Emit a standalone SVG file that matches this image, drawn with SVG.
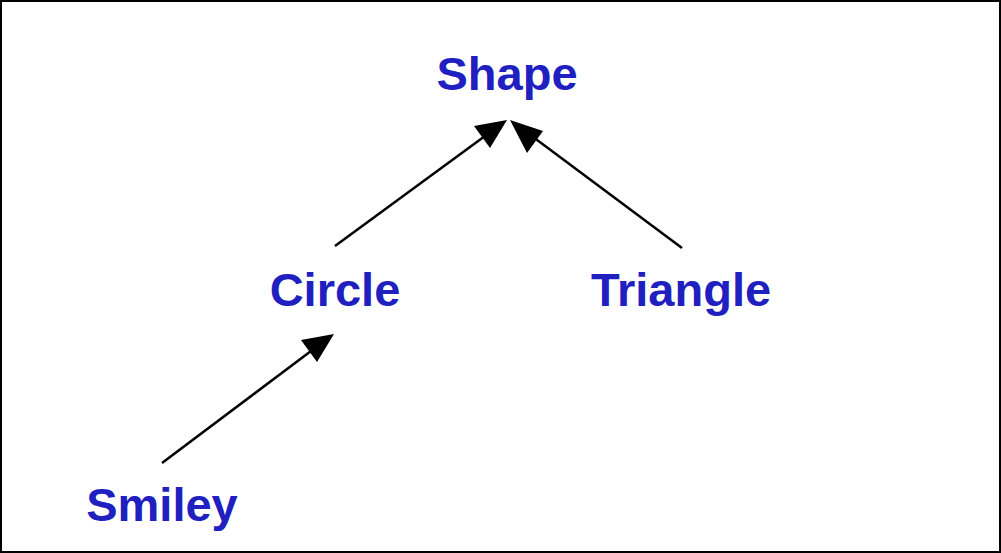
<svg xmlns="http://www.w3.org/2000/svg" width="1001" height="553" viewBox="0 0 1001 553">
<style>
.lbl{font-family:"Liberation Sans",Arial,sans-serif;font-weight:bold;font-size:47px;fill:#2020c0;text-anchor:middle}
.edge{stroke:#000;stroke-width:2.5;fill:none}
.head{fill:#000}
</style>
<rect x="1" y="1" width="999" height="551" fill="#fff" stroke="#000" stroke-width="2"/>
<g id="connectors">
<line class="edge" x1="335" y1="246" x2="500" y2="125"/>
<path class="head" d="M507,120 L490,148 L474,126 z"/>
<line class="edge" x1="682" y1="248" x2="517" y2="125"/>
<path class="head" d="M510,120 L543,131 L527,153 z"/>
<line class="edge" x1="162" y1="463" x2="327" y2="339"/>
<path class="head" d="M334,334 L317,362 L301,340 z"/>
</g>
<g id="node-shape"><text class="lbl" x="507" y="90">Shape</text></g>
<g id="node-circle"><text class="lbl" x="335" y="306">Circle</text></g>
<g id="node-triangle"><text class="lbl" x="681" y="306">Triangle</text></g>
<g id="node-smiley"><text class="lbl" x="162" y="521">Smiley</text></g>
</svg>
